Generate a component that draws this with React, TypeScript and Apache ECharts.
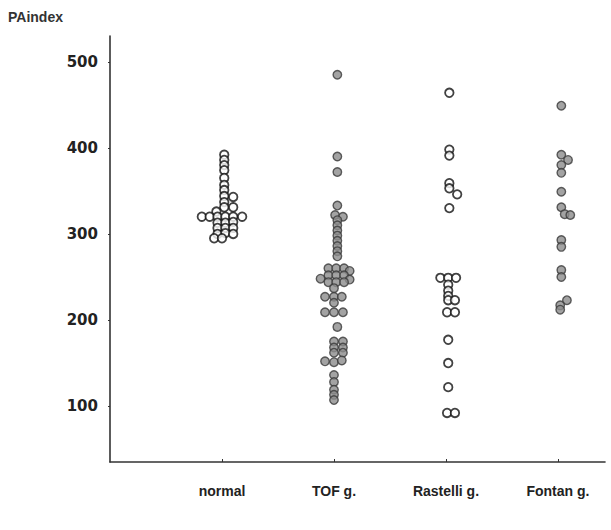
import React, { useEffect, useRef } from "react";
import * as echarts from "echarts";

const categories = ["normal", "TOF g.", "Rastelli g.", "Fontan g."];
const yTicks = [100, 200, 300, 400, 500];

const normalValues = [392, 386, 380, 374, 365, 357, 351, 344, 343, 337, 331, 331, 326, 320, 320, 320, 320, 320, 320, 313, 313, 314, 307, 307, 307, 300, 301, 300, 295, 295];
const normalOffsets = [0.02, 0.02, 0.02, 0.02, 0.02, 0.02, 0.02, 0.02, 0.1, 0.02, 0.02, 0.1, -0.05, -0.18, -0.11, -0.04, 0.03, 0.1, 0.18, -0.04, 0.03, 0.1, -0.04, 0.03, 0.1, -0.04, 0.03, 0.1, -0.07, 0.0];

const tofValues = [485, 390, 372, 333, 322, 320, 316, 310, 304, 298, 292, 286, 280, 274, 260, 260, 260, 257, 252, 252, 252, 248, 247, 244, 244, 244, 237, 227, 227, 227, 220, 209, 209, 209, 192, 175, 175, 168, 168, 162, 162, 152, 151, 153, 136, 128, 119, 113, 107];
const tofOffsets = [0.03, 0.03, 0.03, 0.03, 0.01, 0.08, 0.03, 0.03, 0.03, 0.03, 0.03, 0.03, 0.03, 0.03, -0.05, 0.02, 0.09, 0.14, -0.05, 0.02, 0.09, -0.12, 0.14, -0.05, 0.02, 0.09, 0.0, -0.08, 0.0, 0.07, 0.0, -0.08, 0.0, 0.08, 0.03, 0.0, 0.08, 0.0, 0.08, 0.0, 0.08, -0.08, 0.0, 0.07, 0.0, 0.0, 0.0, 0.0, 0.0];

const rastelliValues = [464, 398, 391, 359, 353, 346, 330, 249, 249, 249, 241, 234, 228, 223, 223, 209, 209, 177, 150, 122, 92, 92];
const rastelliOffsets = [0.03, 0.03, 0.03, 0.03, 0.03, 0.1, 0.03, -0.05, 0.02, 0.09, 0.02, 0.02, 0.02, 0.02, 0.08, 0.01, 0.08, 0.02, 0.02, 0.02, 0.01, 0.08];

const fontanValues = [449, 392, 386, 380, 371, 349, 331, 323, 322, 293, 285, 258, 250, 223, 217, 212];
const fontanOffsets = [0.03, 0.03, 0.09, 0.03, 0.03, 0.03, 0.03, 0.06, 0.11, 0.03, 0.03, 0.03, 0.03, 0.08, 0.02, 0.02];

const build = (idx: number, vals: number[], offs: number[]) =>
  vals.map((v, i) => [idx + 1 + offs[i], v]);

export default function App() {
  const ref = useRef<HTMLDivElement>(null);
  useEffect(() => {
    document.body.style.margin = "0";
    const chart = echarts.init(ref.current!, null, { renderer: "svg" });
    const font = "'Liberation Sans', Arial, sans-serif";
    const wideFont = "'DejaVu Sans', 'Liberation Sans', sans-serif";
    const openStyle = { color: "#ffffff", borderColor: "#111111", borderWidth: 1.8 };
    const grayStyle = { color: "#8c8c8c", borderColor: "#3a3a3a", borderWidth: 1.4 };
    chart.setOption({
      animation: false,
      backgroundColor: "#ffffff",
      title: {
        text: "PAindex",
        left: 3,
        top: 5,
        textStyle: { fontFamily: font, fontSize: 14, fontWeight: "bold", color: "#333" },
      },
      grid: { left: 110, right: 6, top: 36, bottom: 68 },
      xAxis: {
        type: "value",
        min: 0,
        max: 4.42,
        splitLine: { show: false },
        axisLine: { show: true, lineStyle: { color: "#333", width: 1.6 } },
        axisTick: { show: true, inside: true, length: 3, customValues: [1, 2, 3, 4], lineStyle: { color: "#333" } },
        axisLabel: {
          customValues: [1, 2, 3, 4],
          formatter: (v: number) => categories[Math.round(v) - 1] ?? "",
          margin: 22,
          fontFamily: font,
          fontSize: 14,
          fontWeight: "bold",
          color: "#222",
        },
      },
      yAxis: {
        type: "value",
        min: 35,
        max: 530,
        splitLine: { show: false },
        axisLine: { show: true, lineStyle: { color: "#333", width: 1.6 } },
        axisTick: { show: true, length: 2, customValues: yTicks, lineStyle: { color: "#333" } },
        axisLabel: {
          customValues: yTicks,
          margin: 12,
          fontFamily: wideFont,
          fontSize: 15,
          fontWeight: "bold",
          color: "#222",
        },
      },
      series: [
        { type: "scatter", symbolSize: 8.5, itemStyle: openStyle, data: build(0, normalValues, normalOffsets) },
        { type: "scatter", symbolSize: 8.5, itemStyle: grayStyle, data: build(1, tofValues, tofOffsets) },
        { type: "scatter", symbolSize: 8.5, itemStyle: openStyle, data: build(2, rastelliValues, rastelliOffsets) },
        { type: "scatter", symbolSize: 8.5, itemStyle: grayStyle, data: build(3, fontanValues, fontanOffsets) },
      ],
    });
    return () => chart.dispose();
  }, []);
  return <div ref={ref} style={{ position: "fixed", left: 0, top: 0, width: 611, height: 530 }} />;
}
